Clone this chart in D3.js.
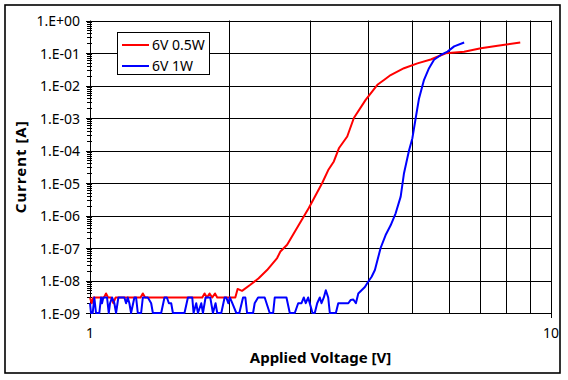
<!DOCTYPE html>
<html>
<head>
<meta charset="utf-8">
<script src="https://cdnjs.cloudflare.com/ajax/libs/d3/7.8.5/d3.min.js"></script>
<style>
  body { margin: 0; background: #fff; }
  text { font-family: "Noto Sans", sans-serif; }
</style>
</head>
<body>
<svg width="568" height="380"></svg>
<script>
// series names for the legend
var seriesNames = ["6V 0.5W", "6V 1W"];

// 6V 0.5W : applied voltage [V] and current [A]
var redV = [1.000, 1.0085, 1.0166, 1.0725, 1.0834, 1.0943, 1.1109, 1.1237, 1.1361, 1.2873, 1.3020, 1.3171,
  1.7519, 1.7722, 1.7936, 1.8170, 1.8417, 1.8668, 1.8881, 2.0663, 2.0902, 2.1370, 2.2275, 2.3222, 2.4217,
  2.5464, 2.5882, 2.6767, 2.8138, 2.9827, 3.1894, 3.2870, 3.3805, 3.4663, 3.6141, 3.7358, 3.9620, 4.2012,
  4.3419, 4.4893, 4.7988, 5.1317, 5.4842, 5.9131, 6.4803, 7.0437, 7.6597, 8.5757];
var redI = [3e-9, 2e-9, 3e-9, 3e-9, 4e-9, 3e-9, 3e-9, 2e-9, 3e-9, 3e-9, 4e-9, 3e-9,
  3e-9, 4e-9, 3e-9, 4e-9, 3e-9, 4e-9, 3e-9, 3e-9, 5.5e-9, 4.8e-9, 7.4e-9, 1.17e-8, 2.1e-8,
  4.9e-8, 7.8e-8, 1.26e-7, 4.2e-7, 1.7e-6, 1.0e-5, 2.5e-5, 4.6e-5, 1.17e-4, 2.7e-4, 1.0e-3, 3.6e-3, 1.05e-2,
  1.48e-2, 2.1e-2, 3.4e-2, 4.8e-2, 6.3e-2, 9.8e-2, 0.11, 0.141, 0.166, 0.209];

// 6V 1W : applied voltage [V] and current [A]
var blueV = [1.000, 1.005, 1.0136, 1.0218, 1.0305, 1.0477, 1.0566, 1.0619, 1.0688, 1.0834, 1.0888, 1.0981,
  1.1053, 1.1165, 1.1294, 1.1390, 1.1522, 1.1873, 1.1974, 1.2076, 1.2173, 1.2277, 1.2482, 1.2589, 1.2697,
  1.2909, 1.3020, 1.3349, 1.3573, 1.3689, 1.4268, 1.4506, 1.4681, 1.4830, 1.5002, 1.5130, 1.6032, 1.6308,
  1.6665, 1.6775, 1.7000, 1.7146, 1.7433, 1.7579, 1.7811, 1.8233, 1.8478, 1.8722, 1.8881, 1.9265, 1.9588,
  1.9755, 1.9953, 2.0104, 2.0355, 2.0767, 2.1081, 2.1478, 2.1727, 2.1913, 2.2580, 2.2763, 2.3154, 2.3930,
  2.4538, 2.4960, 2.5161, 2.6679, 2.7126, 2.7810, 2.8288, 2.8762, 2.9096, 2.9376, 2.9738, 2.9972, 3.0382,
  3.0733, 3.1104, 3.1515, 3.1784, 3.2152, 3.2472, 3.2863, 3.3129, 3.4145, 3.4556, 3.6333, 3.6754, 3.7257,
  3.7740, 3.8194, 3.8824, 3.9475, 4.0152, 4.0825, 4.1495, 4.2696, 4.3780, 4.4893, 4.6026, 4.7197, 4.7988,
  4.9204, 5.0040, 5.0877, 5.1728, 5.3039, 5.4376, 5.5754, 5.7677, 5.9636, 6.1646, 6.4803];
var blueI = [2e-9, 1e-9, 1e-9, 3e-9, 1e-9, 1e-9, 3e-9, 2e-9, 3e-9, 3e-9, 3e-9, 1e-9,
  2e-9, 3e-9, 2e-9, 1e-9, 3e-9, 3e-9, 2e-9, 3e-9, 2e-9, 1e-9, 3e-9, 3e-9, 1e-9,
  1e-9, 3e-9, 3e-9, 2e-9, 1e-9, 1e-9, 3e-9, 3e-9, 2e-9, 2e-9, 1e-9, 1e-9, 3e-9,
  3e-9, 1e-9, 2e-9, 1e-9, 2e-9, 1e-9, 3e-9, 3e-9, 1e-9, 2e-9, 1e-9, 1e-9, 3e-9,
  3e-9, 2e-9, 3e-9, 2e-9, 1e-9, 1e-9, 3e-9, 3e-9, 1e-9, 1e-9, 2e-9, 3e-9, 3e-9,
  1e-9, 1e-9, 3e-9, 3e-9, 1e-9, 1e-9, 2e-9, 2e-9, 3e-9, 2e-9, 3e-9, 2e-9, 1e-9,
  1e-9, 2e-9, 3e-9, 2e-9, 3e-9, 5e-9, 3e-9, 1e-9, 1e-9, 2e-9, 2e-9, 2.5e-9, 2.6e-9,
  2e-9, 4e-9, 5e-9, 6.3e-9, 9.3e-9, 1.3e-8, 2.1e-8, 1e-7, 2.5e-7, 5e-7, 1.17e-6, 3.8e-6, 2e-5,
  1e-4, 2.4e-4, 1e-3, 4e-3, 1.5e-2, 3.4e-2, 6.2e-2, 8.7e-2, 0.11, 0.16, 0.21];

// tick labels
var yTickLabels = ["1.E-09", "1.E-08", "1.E-07", "1.E-06", "1.E-05", "1.E-04", "1.E-03", "1.E-02", "1.E-01", "1.E+00"];
var xTickLabels = ["1", "10"];

var svg = d3.select("svg"),
    plotLeft = 90, plotRight = 551, plotTop = 20.5, plotBottom = 313;

// outer frame of the chart
svg.append("rect")
    .attr("x", 5).attr("y", 5)
    .attr("width", 555).attr("height", 368)
    .attr("fill", "#fff")
    .attr("stroke", "#000")
    .attr("stroke-width", 1.6);

var x = d3.scaleLog().domain([1, 10]).range([plotLeft, plotRight]);
var y = d3.scaleLog().domain([1e-9, 1]).range([plotBottom, plotTop]);

var decades = d3.range(-9, 1).map(function(e) { return Math.pow(10, e); });
var minors = [];
decades.slice(0, -1).forEach(function(d) {
  for (var k = 2; k <= 9; k++) minors.push(d * k);
});
var xGrid = d3.range(2, 10);

function snap(v) { return Math.round(v) + 0.5; }

// grid lines
var grid = svg.append("g").attr("stroke", "#000").attr("stroke-width", 1);
grid.selectAll(".h").data(decades).enter().append("line")
    .attr("x1", plotLeft).attr("x2", plotRight)
    .attr("y1", function(d) { return snap(y(d)); })
    .attr("y2", function(d) { return snap(y(d)); });
grid.selectAll(".v").data(xGrid).enter().append("line")
    .attr("y1", plotTop).attr("y2", plotBottom)
    .attr("x1", function(d) { return snap(x(d)); })
    .attr("x2", function(d) { return snap(x(d)); });
grid.append("line")
    .attr("x1", plotRight + 0.5).attr("x2", plotRight + 0.5)
    .attr("y1", plotTop).attr("y2", plotBottom + 5);

// y axis with major and minor ticks
var yAxis = svg.append("g").attr("stroke", "#000");
yAxis.append("line").attr("x1", plotLeft + 0.5).attr("x2", plotLeft + 0.5).attr("y1", plotTop).attr("y2", plotBottom + 0.5);
yAxis.selectAll(".maj").data(decades).enter().append("line")
    .attr("x1", plotLeft - 4).attr("x2", plotLeft + 4)
    .attr("y1", function(d) { return snap(y(d)); })
    .attr("y2", function(d) { return snap(y(d)); });
yAxis.selectAll(".min").data(minors).enter().append("line")
    .attr("x1", plotLeft - 3).attr("x2", plotLeft + 2)
    .attr("y1", function(d) { return snap(y(d)); })
    .attr("y2", function(d) { return snap(y(d)); });

svg.append("g")
    .attr("font-size", 14)
    .attr("text-anchor", "end")
  .selectAll("text")
  .data(decades)
  .enter().append("text")
    .attr("x", 80)
    .attr("y", function(d) { return y(d) + 5.5; })
    .text(function(d, i) { return yTickLabels[i]; });

// x axis: only 1 and 10 carry a tick
var xAxis = svg.append("g").attr("stroke", "#000");
xAxis.append("line").attr("x1", plotLeft).attr("x2", plotRight + 1).attr("y1", plotBottom + 0.5).attr("y2", plotBottom + 0.5);
xAxis.selectAll(".t").data([1, 10]).enter().append("line")
    .attr("x1", function(d) { return snap(x(d)); })
    .attr("x2", function(d) { return snap(x(d)); })
    .attr("y1", plotBottom).attr("y2", plotBottom + 5);

svg.append("g")
    .attr("font-size", 14)
    .attr("text-anchor", "middle")
  .selectAll("text")
  .data([1, 10])
  .enter().append("text")
    .attr("x", function(d) { return x(d); })
    .attr("y", 337.5)
    .text(function(d, i) { return xTickLabels[i]; });

// the two curves
var line = d3.line()
    .x(function(d) { return x(d[0]); })
    .y(function(d) { return y(d[1]); });

var series = [
  {name: seriesNames[0], color: "#ff0000", points: d3.zip(redV, redI)},
  {name: seriesNames[1], color: "#0000ff", points: d3.zip(blueV, blueI)}
];

svg.append("g").selectAll("path")
  .data(series)
  .enter().append("path")
    .attr("fill", "none")
    .attr("stroke", function(d) { return d.color; })
    .attr("stroke-width", 2)
    .attr("stroke-linejoin", "round")
    .attr("d", function(d) { return line(d.points); });

// legend
var legend = svg.append("g");
legend.append("rect")
    .attr("x", 117.5).attr("y", 32.5)
    .attr("width", 92).attr("height", 42)
    .attr("fill", "#fff").attr("stroke", "#000");

var item = legend.selectAll(".item")
  .data(series)
  .enter().append("g")
    .attr("transform", function(d, i) { return "translate(0," + (45 + i * 21) + ")"; });
item.append("line")
    .attr("x1", 122).attr("x2", 149)
    .attr("stroke", function(d) { return d.color; })
    .attr("stroke-width", 2);
item.append("text")
    .attr("x", 152).attr("y", 5)
    .attr("font-size", 14)
    .text(function(d) { return d.name; });

// axis titles
svg.append("text")
    .attr("x", (plotLeft + plotRight) / 2)
    .attr("y", 363)
    .attr("text-anchor", "middle")
    .attr("font-size", 15)
    .attr("font-weight", "bold")
    .text("Applied Voltage [V]");

svg.append("text")
    .attr("transform", "translate(26," + (plotTop + plotBottom) / 2 + ") rotate(-90)")
    .attr("text-anchor", "middle")
    .attr("font-size", 15)
    .attr("font-weight", "bold")
    .attr("letter-spacing", 1)
    .text("Current [A]");
</script>
</body>
</html>
